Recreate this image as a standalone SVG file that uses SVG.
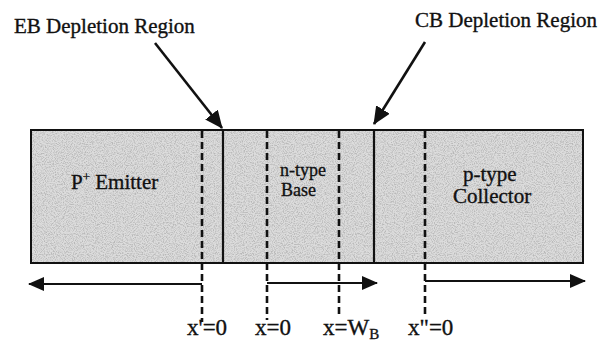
<svg xmlns="http://www.w3.org/2000/svg" width="605" height="341" viewBox="0 0 605 341">
  <style>
    text { font-family: "Liberation Serif", "Times New Roman", serif; fill: #111; stroke: #111; stroke-width: 0.35; }
    .lbl { font-size: 21px; }
    .small { font-size: 18px; }
    .region { font-size: 21px; }
    .coord { font-size: 23px; }
    .edge { fill: none; stroke: #111; stroke-width: 2; }
    .junction { stroke: #111; stroke-width: 2.2; }
    .dash { stroke: #111; stroke-width: 2.6; stroke-dasharray: 7 4; fill: none; }
    .pointer { stroke: #111; stroke-width: 2.6; fill: none; }
    .axis { stroke: #111; stroke-width: 2; fill: none; }
  </style>
  <defs>
    <marker id="head" viewBox="0 0 16 14" refX="15" refY="7" markerWidth="16" markerHeight="14" markerUnits="userSpaceOnUse" orient="auto">
      <path d="M0,0 L16,7 L0,14 Z" fill="#111"/>
    </marker>
    <marker id="headBig" viewBox="0 0 18 16" refX="17" refY="8" markerWidth="18" markerHeight="16" markerUnits="userSpaceOnUse" orient="auto">
      <path d="M0,0 L18,8 L0,16 Z" fill="#111"/>
    </marker>
    <filter id="grain" x="0" y="0" width="100%" height="100%">
      <feTurbulence type="fractalNoise" baseFrequency="0.9" numOctaves="2" seed="7" result="n"/>
      <feColorMatrix in="n" type="matrix" values="0 0 0 0 0.4  0 0 0 0 0.4  0 0 0 0 0.4  3 0 0 0 -1.25"/>
    </filter>
  </defs>

  <rect width="605" height="341" fill="#ffffff"/>

  <!-- transistor bar -->
  <g id="device">
    <rect x="31" y="130" width="552" height="133" fill="#dcdcdc"/>
    <rect x="31" y="130" width="552" height="133" fill="#000" filter="url(#grain)" opacity="0.7"/>
    <rect class="edge" x="31" y="130" width="552" height="133"/>
  </g>

  <g id="emitter">
    <text class="region" x="71" y="189">P<tspan font-size="13" dy="-8">+</tspan><tspan dy="8"> Emitter</tspan></text>
  </g>
  <g id="base">
    <text class="small" x="280" y="176">n-type</text>
    <text class="small" x="281" y="196">Base</text>
  </g>
  <g id="collector">
    <text class="region" x="463" y="181">p-type</text>
    <text class="region" x="453" y="203">Collector</text>
  </g>

  <!-- metallurgical junctions -->
  <g id="junctions">
    <line class="junction" x1="223" y1="130" x2="223" y2="263"/>
    <line class="junction" x1="374" y1="130" x2="374" y2="263"/>
  </g>

  <!-- depletion edges and coordinate origins -->
  <g id="origins">
    <line class="dash" x1="202" y1="131" x2="202" y2="322"/>
    <line class="dash" x1="267" y1="131" x2="267" y2="320"/>
    <line class="dash" x1="339" y1="131" x2="339" y2="316"/>
    <line class="dash" x1="425" y1="131" x2="425" y2="318"/>
  </g>

  <g id="connectors">
    <line class="pointer" x1="155" y1="43" x2="222" y2="128" marker-end="url(#headBig)"/>
    <line class="pointer" x1="425" y1="42" x2="374" y2="124" marker-end="url(#headBig)"/>
    <line class="axis" x1="202" y1="284" x2="29" y2="284" marker-end="url(#head)"/>
    <line class="axis" x1="267" y1="283" x2="377" y2="283" marker-end="url(#head)"/>
    <line class="axis" x1="425" y1="281" x2="585" y2="281" marker-end="url(#head)"/>
  </g>

  <g id="eb-label">
    <text class="lbl" x="14" y="33">EB Depletion Region</text>
  </g>
  <g id="cb-label">
    <text class="lbl" x="415" y="27">CB Depletion Region</text>
  </g>

  <g id="coords">
    <text class="coord" x="187" y="335">x'=0</text>
    <text class="coord" x="255" y="335">x=0</text>
    <text class="coord" x="323" y="335">x=W<tspan font-size="15" dy="4">B</tspan></text>
    <text class="coord" x="408" y="335">x"=0</text>
  </g>
</svg>
